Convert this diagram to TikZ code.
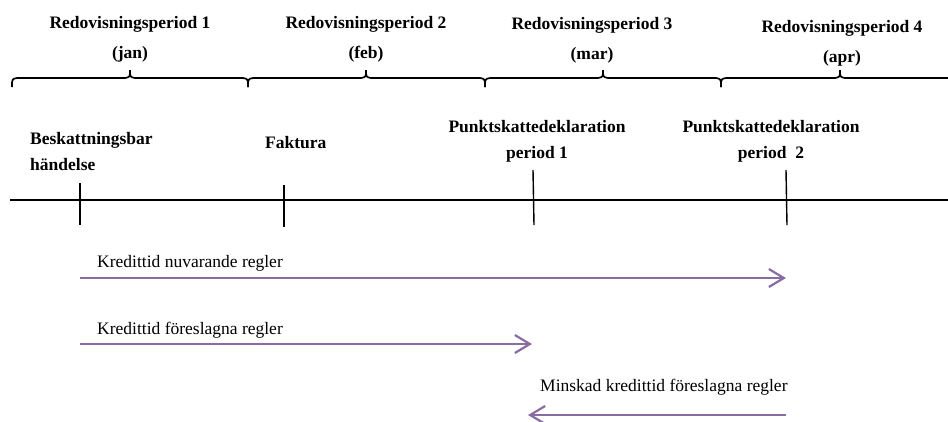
\documentclass[tikz,border=0pt]{standalone}
\usepackage{fontspec}
\setmainfont{Liberation Serif}
\usetikzlibrary{arrows.meta}
\definecolor{kreditlila}{RGB}{136,108,162}

% klammer over en redovisningsperiod: vänster, mitt, höger
\newcommand{\klammer}[3]{%
  \draw[klammerlinje] (#1,87) .. controls (#1,79) .. (#1+5,78) -- (#2-5,78)
    .. controls (#2,77) .. (#2,70) .. controls (#2,77) .. (#2+5,78)
    -- (#3-5,78) .. controls (#3,79) .. (#3,87);}

\begin{document}
\begin{tikzpicture}[x=1pt,y=-1pt,
    rubrik/.style={font=\bfseries\fontsize{17.5}{30}\selectfont,align=center,inner sep=0pt},
    handelse/.style={font=\bfseries\fontsize{17.5}{26}\selectfont,inner sep=0pt},
    kreditext/.style={font=\fontsize{17.5}{20}\selectfont,inner sep=0pt,anchor=west},
    klammerlinje/.style={line width=1.7pt},
    tidslinje/.style={line width=2pt},
    streck/.style={line width=1.4pt},
    kredit/.style={draw=kreditlila,line width=2.2pt,-{Straight Barb[length=15pt,width=18pt]}}]
  \useasboundingbox (0,0) rectangle (948,421);
  \clip (0,0) rectangle (948,421);

  % perioder
  \node[rubrik] (rp1) at (130,39) {Redovisningsperiod 1\\(jan)};
  \node[rubrik] (rp2) at (366,39) {Redovisningsperiod 2\\(feb)};
  \node[rubrik] (rp3) at (592,40) {Redovisningsperiod 3\\(mar)};
  \node[rubrik] (rp4) at (842,43) {Redovisningsperiod 4\\(apr)};
  \klammer{12}{130}{248}
  \klammer{248}{366}{485}
  \klammer{485}{603}{721}
  \klammer{721}{840}{959}

  % tidslinjen
  \coordinate (start) at (10,200);
  \coordinate (slut) at (948,200);
  \coordinate (beskatt) at (80,200);
  \coordinate (faktura) at (284,200);
  \coordinate (dekl1) at (533,200);
  \coordinate (dekl2) at (786,200);
  \draw[tidslinje] (start) -- (slut);
  \draw[streck] (80,183) -- (80,225);
  \draw[streck] (284,185) -- (284,227);
  \draw[streck] (533,170) -- (534,225);
  \draw[streck] (786,170) -- (787,225);

  \node[handelse,align=left,anchor=north west] (besk) at (30,132) {Beskattningsbar\\händelse};
  \node[handelse,anchor=north west] (fakt) at (265,136) {Faktura};
  \node[handelse,align=center,anchor=north] (pd1) at (537,120) {Punktskattedeklaration\\period 1};
  \node[handelse,align=center,anchor=north] (pd2) at (771,120) {Punktskattedeklaration\\period\ \ 2};

  % kredittider
  \coordinate (nu0) at (80,278);
  \coordinate (nu1) at (786,278);
  \coordinate (fo0) at (80,344);
  \coordinate (fo1) at (532,344);
  \coordinate (mi0) at (786,415);
  \coordinate (mi1) at (528,415);
  \draw[kredit] (nu0) -- (nu1);
  \draw[kredit] (fo0) -- (fo1);
  \draw[kredit] (mi0) -- (mi1);
  \node[kreditext] (tnu) at (97,263) {Kredittid nuvarande regler};
  \node[kreditext] (tfo) at (97,330) {Kredittid föreslagna regler};
  \node[kreditext] (tmi) at (540,387) {Minskad kredittid föreslagna regler};
\end{tikzpicture}
\end{document}
